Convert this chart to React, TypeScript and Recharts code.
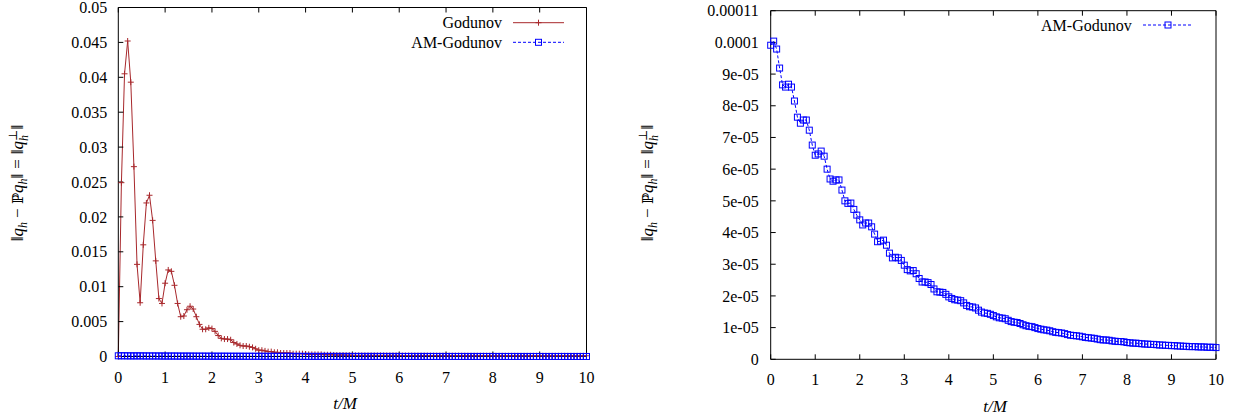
import React from 'react';
import { LineChart, Line, XAxis, YAxis, Legend } from 'recharts';

// output spacing of the runs, in t/M
const DT = 1 / 15;

const xTicks = [0, 1, 2, 3, 4, 5, 6, 7, 8, 9, 10];

const leftYTicks = [0, 0.005, 0.01, 0.015, 0.02, 0.025, 0.03, 0.035, 0.04, 0.045, 0.05];
const leftYLabels = ['0', '0.005', '0.01', '0.015', '0.02', '0.025', '0.03', '0.035', '0.04', '0.045', '0.05'];

const rightYTicks = [0, 0.00001, 0.00002, 0.00003, 0.00004, 0.00005, 0.00006, 0.00007, 0.00008, 0.00009, 0.0001, 0.00011];
const rightYLabels = ['0', '1e-05', '2e-05', '3e-05', '4e-05', '5e-05', '6e-05', '7e-05', '8e-05', '9e-05', '0.0001', '0.00011'];

// ||q_h - P q_h|| for plain Godunov
const godunov = [
  0, 0.0249, 0.0405, 0.0452, 0.0393, 0.0272, 0.0132, 0.0077, 0.016, 0.022,
  0.0231, 0.0195, 0.0137, 0.0083, 0.0076, 0.0105, 0.0124, 0.0122, 0.0102, 0.0076,
  0.0057, 0.0058, 0.0067, 0.0072, 0.0068, 0.0057, 0.0046, 0.0039, 0.0039, 0.0041,
  0.004, 0.0036, 0.003, 0.0026, 0.0025, 0.0025, 0.0024, 0.002, 0.0018, 0.0016,
  0.0015, 0.0015, 0.0014, 0.0013, 0.0011, 0.0009, 0.0009, 0.0008, 0.0007, 0.0007,
  0.0006, 0.0006, 0.0005, 0.0005, 0.0005, 0.0005, 0.0004, 0.0004, 0.0004, 0.0004,
  0.00035, 0.0003, 0.0003, 0.0003, 0.0003, 0.0003, 0.00025, 0.00025, 0.00025, 0.00022,
  0.0002, 0.0002, 0.0002, 0.00018, 0.00018, 0.00017, 0.00015, 0.00015, 0.00015, 0.00015,
  0.00015, 0.00015, 0.00015, 0.00015, 0.00015, 0.00015, 0.00015, 0.00015, 0.00015, 0.00015,
  0.00015, 0.00013, 0.00013, 0.00013, 0.00013, 0.00013, 0.00013, 0.00013, 0.00013, 0.00013,
  0.00012, 0.00012, 0.00012, 0.00012, 0.00012, 0.00012, 0.00012, 0.00012, 0.00012, 0.00012,
  0.00011, 0.00011, 0.00011, 0.00011, 0.00011, 0.00011, 0.00011, 0.00011, 0.00011, 0.00011,
  0.0001, 0.0001, 0.0001, 0.0001, 0.0001, 0.0001, 0.0001, 0.0001, 0.0001, 0.0001,
  0.0001, 0.0001, 0.0001, 0.0001, 0.0001, 0.0001, 0.0001, 0.0001, 0.0001, 0.0001,
  0.0001, 0.0001, 0.0001, 0.0001, 0.0001, 0.0001, 0.0001, 0.0001, 0.0001, 0.0001,
  0.0001,
];

// same quantity for AM-Godunov, in units of 1e-5
const amGodunovE5 = [
  9.91, 10.04, 9.79, 9.19, 8.66, 8.59, 8.68, 8.59, 8.15, 7.64,
  7.45, 7.55, 7.55, 7.23, 6.76, 6.44, 6.48, 6.57, 6.41, 6.0,
  5.69, 5.62, 5.66, 5.66, 5.34, 5.0, 4.92, 4.93, 4.73, 4.55,
  4.4, 4.24, 4.3, 4.3, 4.18, 3.95, 3.71, 3.73, 3.76, 3.6,
  3.35, 3.2, 3.22, 3.2, 3.12, 2.97, 2.83, 2.79, 2.8, 2.7,
  2.55, 2.44, 2.44, 2.42, 2.36, 2.22, 2.13, 2.12, 2.11, 2.05,
  1.97, 1.92, 1.88, 1.87, 1.85, 1.78, 1.7, 1.66, 1.65, 1.62,
  1.55, 1.49, 1.46, 1.45, 1.42, 1.38, 1.34, 1.31, 1.3, 1.28,
  1.23, 1.19, 1.17, 1.16, 1.13, 1.09, 1.06, 1.04, 1.03, 1.0,
  0.97, 0.95, 0.93, 0.92, 0.9, 0.87, 0.85, 0.84, 0.83, 0.81,
  0.78, 0.76, 0.75, 0.74, 0.73, 0.71, 0.69, 0.68, 0.67, 0.66,
  0.64, 0.62, 0.61, 0.61, 0.6, 0.58, 0.57, 0.56, 0.56, 0.55,
  0.53, 0.52, 0.51, 0.51, 0.5, 0.49, 0.48, 0.48, 0.47, 0.47,
  0.46, 0.45, 0.45, 0.44, 0.44, 0.43, 0.43, 0.42, 0.42, 0.41,
  0.41, 0.4, 0.4, 0.4, 0.39, 0.39, 0.39, 0.38, 0.38, 0.38,
  0.37,
];

const data = godunov.map((g, i) => ({
  t: i * DT,
  godunov: g,
  am: amGodunovE5[i] * 1e-5,
}));

const RED = '#a8282c';
const BLUE = '#0000ff';
const FONT = '"Liberation Serif", "DejaVu Serif", serif';
const tickStyle = { fill: '#000', fontSize: 16, fontFamily: FONT };

const labelFor = (ticks: number[], labels: string[]) => (v: number) => {
  const i = ticks.findIndex((t) => Math.abs(t - v) < 1e-12);
  return i >= 0 ? labels[i] : '';
};

const Plus = ({ cx, cy }: any) => (
  <path d={`M${cx - 3},${cy}H${cx + 3}M${cx},${cy - 3}V${cy + 3}`} stroke={RED} strokeWidth={1} fill="none" />
);
const Square = ({ cx, cy }: any) => (
  <rect x={cx - 3} y={cy - 3} width={6} height={6} stroke={BLUE} strokeWidth={1} fill="none" />
);

const plusDot = (p: any) => <Plus key={`p${p.index}`} cx={p.cx} cy={p.cy} />;
const squareDot = (p: any) => <Square key={`s${p.index}`} cx={p.cx} cy={p.cy} />;

const seriesOrder = ['godunov', 'am'];
const names: Record<string, string> = { godunov: 'Godunov', am: 'AM-Godunov' };

const makeLegend = (textX: number, x1: number, x2: number, rowY: number[]) => (props: any) => {
  const payload = [...(props.payload || [])].sort(
    (a: any, b: any) => seriesOrder.indexOf(a.dataKey) - seriesOrder.indexOf(b.dataKey),
  );
  return (
    <svg width={260} height={45} style={{ display: 'block', overflow: 'visible' }}>
      {payload.map((p: any, i: number) => {
        const y = rowY[i];
        const mid = (x1 + x2) / 2;
        const isAm = p.dataKey === 'am';
        return (
          <g key={p.dataKey}>
            <text x={textX} y={y} textAnchor="end" dominantBaseline="central" fontFamily={FONT} fontSize={16} fill="#000">
              {names[p.dataKey]}
            </text>
            <line x1={x1} x2={x2} y1={y} y2={y} stroke={isAm ? BLUE : RED} strokeWidth={1} strokeDasharray={isAm ? '3 2' : undefined} />
            {isAm ? <Square cx={mid} cy={y} /> : <Plus cx={mid} cy={y} />}
          </g>
        );
      })}
    </svg>
  );
};

const sub = { fontSize: 12 };

const YTitle = ({ left, top }: { left: number; top: number }) => (
  <div
    style={{
      position: 'absolute', left: left - 110, top: top - 12, width: 220, height: 24,
      lineHeight: '24px', textAlign: 'center', transform: 'rotate(-90deg)',
      fontFamily: FONT, fontSize: 17, color: '#000', whiteSpace: 'nowrap',
    }}
  >
    ‖<i>q</i><sub style={sub}><i>h</i></sub>
    <span style={{ margin: '0 4px' }}>−</span>
    <span style={{ fontFamily: '"DejaVu Serif", serif', fontSize: 15 }}>ℙ</span><i>q</i><sub style={sub}><i>h</i></sub>‖
    <span style={{ margin: '0 5px' }}>=</span>
    ‖<i>q</i>
    <span style={{ display: 'inline-block', verticalAlign: 'middle', lineHeight: '11px', fontSize: 12, textAlign: 'left' }}>
      <span style={{ display: 'block' }}>⊥</span>
      <span style={{ display: 'block' }}><i>h</i></span>
    </span>‖
  </div>
);

const XTitle = ({ left, top }: { left: number; top: number }) => (
  <div style={{ position: 'absolute', left: left - 30, top: top - 10, width: 60, textAlign: 'center', fontFamily: FONT, fontSize: 17, fontStyle: 'italic', lineHeight: '20px' }}>
    t/M
  </div>
);

const frame = { stroke: '#000', strokeWidth: 1 };

export default function App() {
  return (
    <div style={{ position: 'absolute', left: 0, top: 0, width: 1241, height: 420, background: '#fff', overflow: 'hidden' }}>
      {/* left panel */}
      <div style={{ position: 'absolute', left: 0, top: 0 }}>
        <LineChart width={600} height={420} data={data} margin={{ top: 0, right: 0, bottom: 0, left: 0 }}>
          <XAxis xAxisId="b" dataKey="t" type="number" domain={[0, 10]} ticks={xTicks} interval={0}
            height={63.5} tickSize={-5} tickMargin={20} axisLine={frame} tickLine={frame} tick={tickStyle} />
          <XAxis xAxisId="t" orientation="top" dataKey="t" type="number" domain={[0, 10]} ticks={xTicks} interval={0}
            height={7.5} tickSize={-5} axisLine={frame} tickLine={frame} tickFormatter={() => ''} />
          <YAxis yAxisId="l" type="number" domain={[0, 0.05]} ticks={leftYTicks} interval={0} width={118.3}
            tickSize={-5} tickMargin={16} axisLine={frame} tickLine={frame} tick={tickStyle}
            tickFormatter={labelFor(leftYTicks, leftYLabels)} />
          <YAxis yAxisId="r" orientation="right" type="number" domain={[0, 0.05]} ticks={leftYTicks} interval={0} width={13.5}
            tickSize={-5} axisLine={frame} tickLine={frame} tickFormatter={() => ''} />
          <Legend verticalAlign="middle" align="center" content={makeLegend(172, 183, 234, [12.7, 32.3])}
            wrapperStyle={{ left: 330, top: 10, width: 260, height: 45 }} />
          <Line xAxisId="b" yAxisId="l" dataKey="godunov" name="Godunov" type="linear" stroke={RED} strokeWidth={1}
            dot={plusDot} activeDot={false} isAnimationActive={false} />
          <Line xAxisId="b" yAxisId="l" dataKey="am" name="AM-Godunov" type="linear" stroke={BLUE} strokeWidth={1}
            strokeDasharray="3 2" dot={squareDot} activeDot={false} isAnimationActive={false} />
        </LineChart>
      </div>
      <YTitle left={18} top={183} />
      <XTitle left={345} top={404} />

      {/* right panel */}
      <div style={{ position: 'absolute', left: 640, top: 0 }}>
        <LineChart width={600} height={420} data={data} margin={{ top: 0, right: 0, bottom: 0, left: 0 }}>
          <XAxis xAxisId="b" dataKey="t" type="number" domain={[0, 10]} ticks={xTicks} interval={0}
            height={60.7} tickSize={-5} tickMargin={19} axisLine={frame} tickLine={frame} tick={tickStyle} />
          <XAxis xAxisId="t" orientation="top" dataKey="t" type="number" domain={[0, 10]} ticks={xTicks} interval={0}
            height={10.7} tickSize={-5} axisLine={frame} tickLine={frame} tickFormatter={() => ''} />
          <YAxis yAxisId="l" type="number" domain={[0, 0.00011]} ticks={rightYTicks} interval={0} width={130.7}
            tickSize={-5} tickMargin={17} axisLine={frame} tickLine={frame} tick={tickStyle}
            tickFormatter={labelFor(rightYTicks, rightYLabels)} />
          <YAxis yAxisId="r" orientation="right" type="number" domain={[0, 0.00011]} ticks={rightYTicks} interval={0} width={24}
            tickSize={-5} axisLine={frame} tickLine={frame} tickFormatter={() => ''} />
          <Legend verticalAlign="middle" align="center" content={makeLegend(161.7, 173, 223, [15])}
            wrapperStyle={{ left: 330, top: 10, width: 260, height: 45 }} />
          <Line xAxisId="b" yAxisId="l" dataKey="am" name="AM-Godunov" type="linear" stroke={BLUE} strokeWidth={1}
            strokeDasharray="3 2" dot={squareDot} activeDot={false} isAnimationActive={false} />
        </LineChart>
      </div>
      <YTitle left={648} top={183} />
      <XTitle left={995} top={407} />
    </div>
  );
}
